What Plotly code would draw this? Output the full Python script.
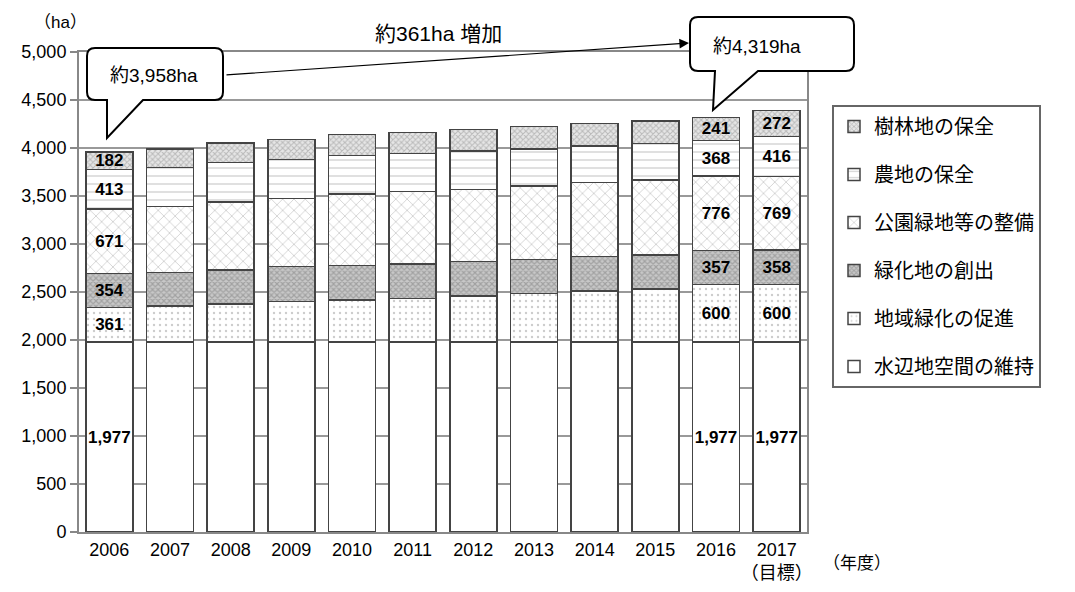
import plotly.graph_objects as go

# Fiscal years (last one is the target year)
years = ["2006", "2007", "2008", "2009", "2010", "2011", "2012", "2013",
         "2014", "2015", "2016", "2017<br>（目標）"]

# Area by category (ha), stacked bottom to top
water = [1977, 1977, 1977, 1977, 1977, 1977, 1977, 1977, 1977, 1977, 1977, 1977]
local = [361, 377, 398, 422, 440, 457, 481, 509, 533, 554, 600, 600]
creation = [354, 351, 354, 365, 361, 358, 358, 354, 358, 354, 357, 358]
park = [671, 684, 709, 708, 743, 753, 754, 764, 771, 782, 776, 769]
farm = [413, 410, 409, 410, 403, 399, 399, 386, 382, 382, 368, 416]
forest = [182, 191, 205, 208, 219, 219, 225, 236, 232, 232, 241, 272]

series_names = ["水辺地空間の維持", "地域緑化の促進", "緑化地の創出",
                "公園緑地等の整備", "農地の保全", "樹林地の保全"]

# Years whose segments carry value labels
labelled = {"2006", "2016", "2017<br>（目標）"}

start_total = 3958
end_total = 4319
increase = end_total - start_total

FONT = "Liberation Sans, Arial, Noto Sans CJK JP, sans-serif"

patterns = [
    dict(shape="", fillmode="replace"),
    dict(shape=".", fgcolor="#9a9a9a", bgcolor="white", size=6, solidity=0.12),
    dict(shape="x", fgcolor="#7a7a7a", bgcolor="#c8c8c8", size=4, solidity=0.5),
    dict(shape="x", fgcolor="#a8a8a8", bgcolor="white", size=8, solidity=0.22),
    dict(shape="-", fgcolor="#a8a8a8", bgcolor="white", size=8, solidity=0.18),
    dict(shape="x", fgcolor="#8c8c8c", bgcolor="#e6e6e6", size=4, solidity=0.45),
]

n_series = len(series_names)
fig = go.Figure()
for i, (name, vals) in enumerate(zip(series_names,
                                     [water, local, creation, park, farm, forest])):
    texts = [f"{v:,}" if y in labelled else "" for y, v in zip(years, vals)]
    fig.add_trace(go.Bar(
        x=years, y=vals, name=name,
        legendgroup=f"g{i}", legendrank=n_series - i,
        marker=dict(color="white", line=dict(color="#444444", width=1.5),
                    pattern=patterns[i]),
        text=texts, textposition="inside", insidetextanchor="middle",
        constraintext="none", textangle=0,
        textfont=dict(family=FONT, size=17, color="black", weight="bold"),
        hoverinfo="skip",
    ))

L, R, T, B = 79, 268, 52, 60
W, H = 1075, 592
PW, PH = W - L - R, H - T - B


def px(x):
    return (x - L) / PW


def py(y):
    return (H - B - y) / PH


def bubble(x0, y0, x1, y1, tail_l, tail_r, tip, r=8):
    """Rounded speech bubble with a tail on the bottom edge (pixel inputs)."""
    def P(x, y):
        return f"{px(x):.5f},{py(y):.5f}"
    d = f"M {P(x0 + r, y0)} L {P(x1 - r, y0)} Q {P(x1, y0)} {P(x1, y0 + r)} "
    d += f"L {P(x1, y1 - r)} Q {P(x1, y1)} {P(x1 - r, y1)} "
    d += f"L {P(tail_r, y1)} L {P(tip[0], tip[1])} L {P(tail_l, y1)} "
    d += f"L {P(x0 + r, y1)} Q {P(x0, y1)} {P(x0, y1 - r)} "
    d += f"L {P(x0, y0 + r)} Q {P(x0, y0)} {P(x0 + r, y0)} Z"
    return dict(type="path", xref="paper", yref="paper", path=d,
                line=dict(color="black", width=2), fillcolor="white", layer="above")


def label(text, x, y, size):
    return dict(text=text, x=px(x), y=py(y), xref="paper", yref="paper",
                xanchor="center", yanchor="middle", showarrow=False,
                font=dict(size=size))


fig.update_layout(
    width=W, height=H,
    margin=dict(l=L, r=R, t=T, b=B),
    barmode="stack", bargap=0.225,
    plot_bgcolor="white", paper_bgcolor="white",
    font=dict(family=FONT, color="black", size=18),
    xaxis=dict(showline=True, linecolor="#888888", linewidth=2, mirror=True,
               ticks="", tickfont=dict(size=18), showgrid=False, automargin=False),
    yaxis=dict(range=[0, 5000], dtick=500, tickformat=",",
               showline=True, linecolor="#888888", linewidth=2, mirror=True,
               ticks="outside", ticklen=7, tickcolor="#888888", tickwidth=1.5,
               gridcolor="#999999", gridwidth=1.5, tickfont=dict(size=18),
               zeroline=False, automargin=False),
    legend=dict(x=px(832), y=py(105), xanchor="left", yanchor="top",
                traceorder="grouped", tracegroupgap=19,
                bordercolor="#666666", borderwidth=2, bgcolor="white",
                font=dict(size=20), entrywidth=260,
                itemclick=False),
    shapes=[
        bubble(87, 48, 223, 100, 107, 143, (107, 138)),
        bubble(690, 17, 854, 71, 715, 758, (713, 110)),
    ],
    annotations=[
        label("（ha）", 60, 22, 17),
        label(f"約{increase}ha 増加", 438, 33, 21),
        dict(text="", x=px(689), y=py(43), xref="paper", yref="paper",
             ax=225 - 689, ay=75 - 43, showarrow=True, arrowhead=2,
             arrowsize=1.6, arrowwidth=1.2, arrowcolor="black"),
        label(f"約{start_total:,}ha", 154, 75, 19),
        label(f"約{end_total:,}ha", 757, 46, 19),
        label("（年度）", 857, 563, 17),
    ],
)

fig.write_html("out.html")
